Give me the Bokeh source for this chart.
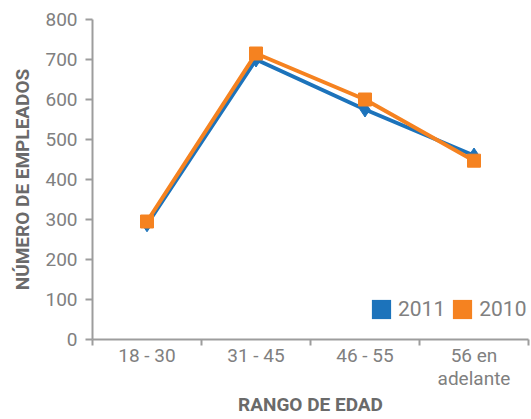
from bokeh.plotting import figure
from bokeh.models import Range1d, FixedTicker, Legend, LegendItem
from bokeh.embed import file_html
from bokeh.resources import INLINE

categories = ["18 - 30", "31 - 45", "46 - 55", "56 en\nadelante"]
series_2011 = [288, 700, 575, 460]
series_2010 = [295, 715, 600, 447]
y_ticks = [0, 100, 200, 300, 400, 500, 600, 700, 800]
series_names = ["2011", "2010"]

BLUE = "#1c73bb"
ORANGE = "#f58220"
AXIS = "#9d9d9d"
TEXT = "#808080"
TITLE = "#6a6a6a"
FONT = "Roboto"

xs = [i + 0.5 for i in range(len(categories))]
bounds = list(range(len(categories) + 1))

p = figure(width=531, height=419, output_backend="svg", toolbar_location=None,
           x_range=Range1d(0, len(categories)), y_range=Range1d(0, 800),
           min_border_left=92, min_border_right=3, min_border_top=19,
           min_border_bottom=80)
p.outline_line_color = None
p.grid.visible = False
p.background_fill_color = "white"
p.border_fill_color = "white"

# y axis
ya = p.yaxis[0]
ya.ticker = FixedTicker(ticks=y_ticks)
ya.axis_line_color = AXIS
ya.axis_line_width = 2
ya.major_tick_line_color = AXIS
ya.major_tick_line_width = 2
ya.major_tick_out = 7
ya.major_tick_in = 0
ya.minor_tick_line_color = None
ya.major_label_standoff = 8
ya.major_label_text_font = FONT
ya.major_label_text_font_size = "19px"
ya.major_label_text_color = TEXT
ya.axis_label = "NÚMERO DE EMPLEADOS"
ya.axis_label_text_font = FONT
ya.axis_label_text_font_style = "bold"
ya.axis_label_text_font_size = "19px"
ya.axis_label_text_color = TITLE
ya.axis_label_standoff = 8

# x axis
xa = p.xaxis[0]
xa.ticker = FixedTicker(ticks=xs, minor_ticks=bounds)
xa.major_label_overrides = {x: c for x, c in zip(xs, categories)}
xa.axis_line_color = AXIS
xa.axis_line_width = 2
xa.major_tick_line_color = None
xa.major_tick_out = 0
xa.major_tick_in = 0
xa.minor_tick_line_color = AXIS
xa.minor_tick_line_width = 2
xa.minor_tick_out = 6
xa.minor_tick_in = 0
xa.major_label_standoff = -2
xa.major_label_text_font = FONT
xa.major_label_text_font_size = "19px"
xa.major_label_text_line_height = 1.0
xa.major_label_text_color = TEXT
xa.axis_label = "RANGO DE EDAD"
xa.axis_label_text_font = FONT
xa.axis_label_text_font_style = "bold"
xa.axis_label_text_font_size = "19px"
xa.axis_label_text_color = TITLE
xa.axis_label_standoff = 0

# series
p.line(xs, series_2011, line_color=BLUE, line_width=4)
p.scatter(xs, series_2011, marker="diamond", size=15, fill_color=BLUE, line_color=BLUE)
p.line(xs, series_2010, line_color=ORANGE, line_width=4)
p.scatter(xs, series_2010, marker="square", size=13, fill_color=ORANGE, line_color=ORANGE)

# legend swatches: zero-size patches on the series points (draw nothing themselves)
r11 = p.quad(left=xs, right=xs, top=series_2011, bottom=series_2011,
             fill_color=BLUE, line_color=None)
r10 = p.quad(left=xs, right=xs, top=series_2010, bottom=series_2010,
             fill_color=ORANGE, line_color=None)
legend = Legend(items=[LegendItem(label=series_names[0], renderers=[r11]),
                       LegendItem(label=series_names[1], renderers=[r10])],
                orientation="horizontal", location=(277, 18),
                glyph_width=24, glyph_height=24, label_standoff=5, spacing=5,
                padding=0, margin=0, border_line_color=None,
                background_fill_alpha=0,
                label_text_font=FONT, label_text_font_size="21px",
                label_text_color=TEXT)
p.add_layout(legend)

open("out.html", "w").write(file_html(p, INLINE))
